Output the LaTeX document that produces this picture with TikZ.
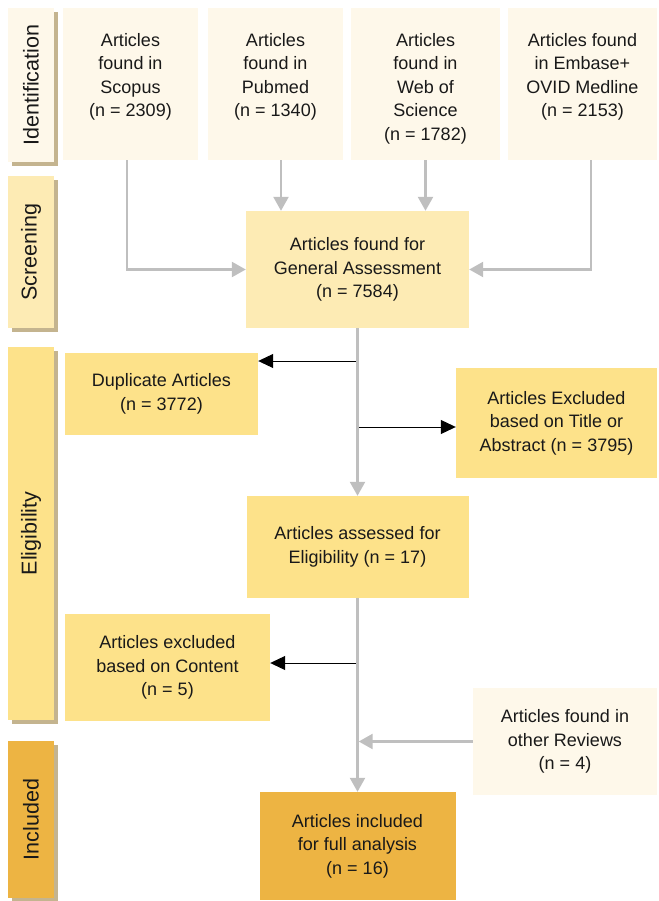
\documentclass[tikz,border=0pt]{standalone}
\usepackage{fontspec}
\setmainfont{Liberation Sans}
\usetikzlibrary{arrows.meta}
\definecolor{cream}{HTML}{FEF8EA}
\definecolor{lightyel}{HTML}{FDEBB4}
\definecolor{midyel}{HTML}{FDE28A}
\definecolor{orangey}{HTML}{EDB443}
\definecolor{shadowtan}{HTML}{C4B48F}
\definecolor{arrowgray}{HTML}{BFBFBF}
\tikzset{
  box/.style={rectangle, inner sep=2pt, align=center, text=black!90,
    font=\fontsize{18}{23.5}\selectfont},
  toptext/.style={anchor=north, inner sep=2pt, align=center, text=black!90,
    font=\fontsize{18}{23.5}\selectfont},
  side/.style={rectangle, inner sep=0pt, minimum width=46pt},
  sidelabel/.style={rotate=90, text=black!90, font=\fontsize{21.5}{24}\selectfont},
  grayarrow/.style={draw=arrowgray, line width=2.4pt, -{Triangle[length=14pt,width=15pt]}},
  blackarrow/.style={draw=black, line width=1pt, -{Triangle[length=15pt,width=14pt]}},
}
\begin{document}
\begin{tikzpicture}[x=1pt,y=-1pt]
\useasboundingbox (0,0) rectangle (658,901);
% side labels with shadows
\foreach \yc/\hh/\col/\nm/\txt in {85/154/cream/ident/Identification, 252/152/lightyel/screen/Screening, 533.5/373/midyel/elig/Eligibility, 819.5/157/orangey/incl/Included}{
  \fill[shadowtan] (8+4,\yc-\hh/2+4) rectangle (54+4,\yc+\hh/2+4);
  \node[side, fill=\col, minimum height=\hh pt] (\nm) at (31,\yc) {};
  \node[sidelabel] at (\nm.center) {\txt};
}
% top boxes
\node[box, fill=cream, minimum width=135pt, minimum height=152pt] (scopus) at (130.5,84) {};
\node[toptext] at (130.5,31) {Articles\\found in\\Scopus\\(n = 2309)};
\node[box, fill=cream, minimum width=135pt, minimum height=152pt] (pubmed) at (275.5,84) {};
\node[toptext] at (275.5,31) {Articles\\found in\\Pubmed\\(n = 1340)};
\node[box, fill=cream, minimum width=149pt, minimum height=152pt] (wos) at (425.5,84) {};
\node[toptext] at (425.5,31) {Articles\\found in\\Web of\\Science\\(n = 1782)};
\node[box, fill=cream, minimum width=149pt, minimum height=152pt] (embase) at (582.5,84) {};
\node[toptext] at (582.5,31) {Articles found\\in Embase+\\OVID Medline\\(n = 2153)};
% middle
\node[box, fill=lightyel, minimum width=223pt, minimum height=117pt] (general) at (357.5,269.5) {Articles found for\\General Assessment\\(n = 7584)};
\node[box, fill=midyel, minimum width=193pt, minimum height=82pt] (dup) at (161.5,394) {Duplicate Articles\\(n = 3772)};
\node[box, fill=midyel, minimum width=201pt, minimum height=110pt] (excltitle) at (556.5,423) {Articles Excluded\\based on Title or\\Abstract (n = 3795)};
\node[box, fill=midyel, minimum width=222pt, minimum height=102pt] (eligible) at (357.5,547) {Articles assessed for\\Eligibility (n = 17)};
\node[box, fill=midyel, minimum width=205pt, minimum height=107pt] (exclcontent) at (167.5,667.5) {Articles excluded\\based on Content\\(n = 5)};
\node[box, fill=cream, minimum width=184pt, minimum height=107pt] (other) at (565,741.5) {Articles found in\\other Reviews\\(n = 4)};
\node[box, fill=orangey, minimum width=196pt, minimum height=108pt] (included) at (357.5,846) {Articles included\\for full analysis\\(n = 16)};
% connectors
\draw[grayarrow] ([xshift=-3.5pt]scopus.south) |- (general.west);
\draw[grayarrow] ([xshift=5.5pt]pubmed.south) -- ([xshift=5.5pt]pubmed.south |- general.north);
\draw[grayarrow] (wos.south) -- (wos.south |- general.north);
\draw[grayarrow] ([xshift=8.5pt]embase.south) |- (general.east);
\coordinate (b1) at (357.5,361);
\coordinate (b2) at (357.5,427);
\coordinate (b3) at (357.5,663);
\draw[blackarrow] (b1) -- (b1 -| dup.east);
\draw[blackarrow] (b2) -- (b2 -| excltitle.west);
\draw[blackarrow] (b3) -- (b3 -| exclcontent.east);
\draw[grayarrow] (general.south) -- (eligible.north);
\draw[grayarrow] (eligible.south) -- (included.north);
\draw[grayarrow] (other.west) -- ([xshift=1.2pt]other.west -| eligible.south);
\end{tikzpicture}
\end{document}
